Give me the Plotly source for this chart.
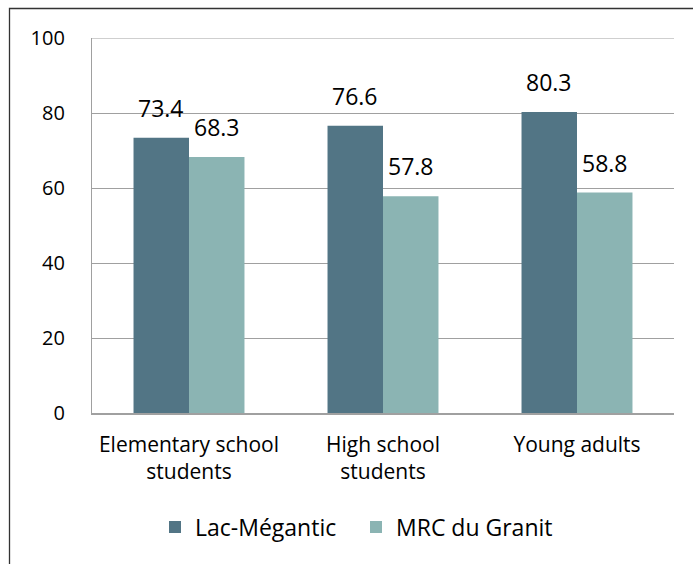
import plotly.graph_objects as go

categories = ["Elementary school<br>students", "High school<br>students", "Young adults"]
series_names = ["Lac-Mégantic", "MRC du Granit"]
lac_megantic = [73.4, 76.6, 80.3]
mrc_granit = [68.3, 57.8, 58.8]
y_ticks = [0, 20, 40, 60, 80, 100]

colors = ["#527585", "#8BB4B3"]
FONT = "Open Sans"

fig = go.Figure()
for name, vals, col in zip(series_names, [lac_megantic, mrc_granit], colors):
    fig.add_trace(go.Bar(name=name, x=categories, y=vals, marker=dict(color=col, line=dict(width=0))))

# data labels
W, H = 693, 564
ml, mr, mt, mb = 92, 19, 38, 151
pw = W - ml - mr
group_px = pw / len(categories)
bargap = 0.428
bar_px = group_px * (1 - bargap) / 2
for i, vals in enumerate([lac_megantic, mrc_granit]):
    off = (i - 0.5) * bar_px
    for c, v in zip(categories, vals):
        fig.add_annotation(x=c, y=v, text=f"{v}", showarrow=False, xref="x", yref="y",
                           xshift=off, yshift=12, yanchor="bottom", xanchor="center",
                           font=dict(family=FONT, size=23, color="#000000"))

# outer frame
ph = H - mt - mb
fig.add_shape(type="rect", xref="paper", yref="paper",
              x0=(9.5 - ml) / pw, x1=(W + 30 - ml) / pw,
              y0=(H - mb - (H + 30)) / ph, y1=(H - mb - 8.5) / ph,
              line=dict(color="#333333", width=1.3), fillcolor="rgba(0,0,0,0)", layer="below")
# top gridline (at the range edge)
fig.add_shape(type="line", xref="paper", yref="y", x0=0, x1=1, y0=y_ticks[-1], y1=y_ticks[-1],
              line=dict(color="#A0A0A0", width=1.2), layer="below")

fig.update_layout(
    width=W, height=H,
    margin=dict(l=ml, r=mr, t=mt, b=mb),
    barmode="group", bargap=bargap, bargroupgap=0,
    plot_bgcolor="white", paper_bgcolor="white",
    font=dict(family=FONT, size=20, color="#000000"),
    showlegend=True,
    legend=dict(orientation="h", x=(155 - ml) / pw, xanchor="left",
                y=(H - mb - 527) / ph, yanchor="middle",
                font=dict(family=FONT, size=23), itemwidth=30, tracegroupgap=0,
                entrywidth=156, entrywidthmode="pixels"),
    xaxis=dict(showline=True, linecolor="#A0A0A0", linewidth=1.5, ticks="",
               showgrid=False, tickfont=dict(family=FONT, size=21), ticklabelstandoff=12),
    yaxis=dict(range=[0, 100], tickvals=y_ticks, showgrid=True, gridcolor="#A0A0A0", gridwidth=1.2,
               showline=True, linecolor="#A0A0A0", linewidth=1.2, ticks="", zeroline=False,
               tickfont=dict(family=FONT, size=20), ticklabelstandoff=22),
)

fig.write_html("out.html", config={"displayModeBar": False},
               post_script="document.body.style.margin='0';document.body.style.overflow='hidden';")
